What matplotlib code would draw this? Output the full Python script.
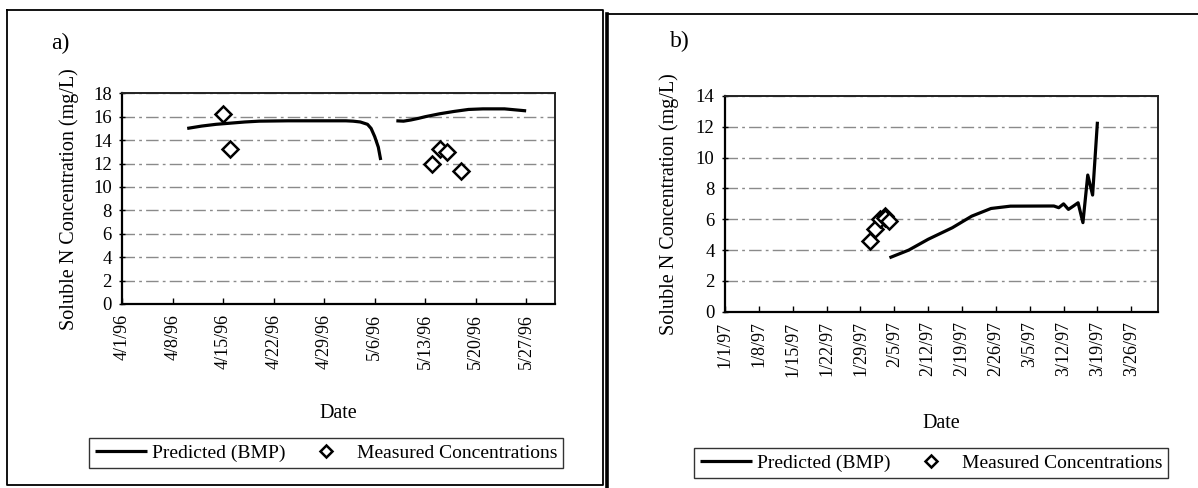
import matplotlib
matplotlib.use("Agg")
import matplotlib.pyplot as plt
from matplotlib.lines import Line2D
import pandas as pd
import numpy as np

plt.rcParams['font.family'] = ['Liberation Serif', 'DejaVu Serif']

# ---------------- data: panel a (1996) ----------------
a_pred_dates = ["1996-04-10", "1996-04-12", "1996-04-14", "1996-04-16", "1996-04-18",
                "1996-04-20", "1996-04-24", "1996-04-28", "1996-05-02", "1996-05-03",
                "1996-05-04", "1996-05-05", "1996-05-05 12:00", "1996-05-06",
                "1996-05-06 12:00", "1996-05-06 20:00",
                "1996-05-08",
                "1996-05-09", "1996-05-10", "1996-05-11", "1996-05-12", "1996-05-13",
                "1996-05-15", "1996-05-17", "1996-05-19", "1996-05-21", "1996-05-24",
                "1996-05-27"]
a_pred_vals = [15.0, 15.2, 15.35, 15.45, 15.55,
               15.62, 15.65, 15.65, 15.65, 15.62,
               15.55, 15.35, 15.0, 14.3,
               13.4, 12.3,
               np.nan,
               15.65, 15.62, 15.72, 15.85, 16.0,
               16.25, 16.45, 16.62, 16.67, 16.67,
               16.5]
a_meas_dates = ["1996-04-15", "1996-04-16", "1996-05-14", "1996-05-15", "1996-05-16", "1996-05-18"]
a_meas_vals = [16.2, 13.2, 12.0, 13.2, 12.95, 11.35]
a_tick_dates = ["1996-04-01", "1996-04-08", "1996-04-15", "1996-04-22", "1996-04-29",
                "1996-05-06", "1996-05-13", "1996-05-20", "1996-05-27"]
a_tick_labels = ["4/1/96", "4/8/96", "4/15/96", "4/22/96", "4/29/96",
                 "5/6/96", "5/13/96", "5/20/96", "5/27/96"]
a_xlim = ["1996-04-01", "1996-05-31"]
a_yticks = [0, 2, 4, 6, 8, 10, 12, 14, 16, 18]

# ---------------- data: panel b (1997) ----------------
b_pred_dates = ["1997-02-04", "1997-02-08", "1997-02-12", "1997-02-17", "1997-02-21",
                "1997-02-25", "1997-03-01", "1997-03-09", "1997-03-10", "1997-03-11",
                "1997-03-12", "1997-03-13", "1997-03-14", "1997-03-15", "1997-03-16",
                "1997-03-17", "1997-03-18", "1997-03-19"]
b_pred_vals = [3.5, 4.0, 4.7, 5.45, 6.2,
               6.7, 6.85, 6.86, 6.86, 6.75,
               7.0, 6.64, 6.85, 7.07, 5.78,
               8.87, 7.57, 12.33]
b_meas_dates = ["1997-01-31", "1997-02-01", "1997-02-02", "1997-02-03", "1997-02-03", "1997-02-04"]
b_meas_vals = [4.6, 5.4, 6.0, 6.2, 6.05, 5.9]
b_tick_dates = ["1997-01-01", "1997-01-08", "1997-01-15", "1997-01-22", "1997-01-29",
                "1997-02-05", "1997-02-12", "1997-02-19", "1997-02-26", "1997-03-05",
                "1997-03-12", "1997-03-19", "1997-03-26"]
b_tick_labels = ["1/1/97", "1/8/97", "1/15/97", "1/22/97", "1/29/97",
                 "2/5/97", "2/12/97", "2/19/97", "2/26/97", "3/5/97",
                 "3/12/97", "3/19/97", "3/26/97"]
b_xlim = ["1997-01-01", "1997-03-31 14:00"]
b_yticks = [0, 2, 4, 6, 8, 10, 12, 14]

series_labels = ["Predicted (BMP)", "Measured Concentrations"]
ylabel = "Soluble N Concentration (mg/L)"
xlabel = "Date"

W, H = 1198, 488
fig = plt.figure(figsize=(W / 100, H / 100), dpi=100)


def fx(px):
    return px / W


def fy(py):
    return 1 - py / H


def to_dt(v):
    return pd.to_datetime(v, format='mixed')


def make_panel(rect, pdates, pvals, mdates_, mvals, tdates, tlabels, xlim, yticks,
               panel_label, label_xy, ylab_x, leg_center, leg_pad):
    ax = fig.add_axes(rect)
    ax.plot(to_dt(pdates), pvals, color='black', lw=2.3, solid_capstyle='butt', zorder=3,
            label=series_labels[0])
    ax.plot(to_dt(mdates_), mvals, linestyle='none', marker='D', markersize=8.0,
            markerfacecolor='white', markeredgecolor='black', markeredgewidth=1.8,
            zorder=4, label=series_labels[1])
    ax.set_xlim(to_dt(xlim[0]), to_dt(xlim[1]))
    ax.set_ylim(yticks[0], yticks[-1])
    ax.set_yticks(yticks)
    ax.set_xticks(to_dt(tdates))
    ax.set_xticklabels(tlabels, rotation=90, fontsize=13)
    ax.tick_params(axis='y', labelsize=13.5, direction='inout', length=5, width=1, pad=5)
    ax.tick_params(axis='x', direction='in', length=4, width=1, pad=7)
    ax.grid(axis='y', color='#8a8a8a', lw=1.0, linestyle=(0, (9, 3, 2, 3)))
    ax.set_axisbelow(True)
    for s in ['left', 'bottom']:
        ax.spines[s].set_linewidth(1.6)
        ax.spines[s].set_color('black')
    for s in ['top', 'right']:
        ax.spines[s].set_linewidth(1.4)
        ax.spines[s].set_color('#222222')
    ax.set_ylabel(ylabel, fontsize=14.5, va='center')
    ax.yaxis.set_label_coords(ylab_x, 0.5)
    ax.set_xlabel(xlabel, fontsize=14.5, va='center')
    ax.xaxis.set_label_coords(0.5, -0.52)
    fig.text(fx(label_xy[0]), fy(label_xy[1]), panel_label, fontsize=17,
             ha='center', va='center')
    leg = ax.legend(loc='center', bbox_to_anchor=(fx(leg_center[0]), fy(leg_center[1])),
                    bbox_transform=fig.transFigure, ncol=2, fontsize=14,
                    frameon=True, fancybox=False, edgecolor='black', markerscale=0.75,
                    handlelength=2.7, handletextpad=0.25, columnspacing=0.7,
                    borderpad=leg_pad, borderaxespad=0)
    leg.get_frame().set_linewidth(1.0)
    return ax


# panel a
make_panel([fx(122.3), fy(304), fx(555) - fx(122.3), fy(93.3) - fy(304)],
           a_pred_dates, a_pred_vals, a_meas_dates, a_meas_vals,
           a_tick_dates, a_tick_labels, a_xlim, a_yticks,
           "a)", (60, 43), -0.123, (326, 453), 0.3)

# panel b
make_panel([fx(725), fy(311.7), fx(1158.3) - fx(725), fy(96) - fy(311.7)],
           b_pred_dates, b_pred_vals, b_meas_dates, b_meas_vals,
           b_tick_dates, b_tick_labels, b_xlim, b_yticks,
           "b)", (680, 41), -0.128, (931, 463), 0.3)

# panel frames
fig.add_artist(Line2D([fx(7), fx(7), fx(603), fx(603), fx(7)],
                      [fy(10), fy(485), fy(485), fy(10), fy(10)],
                      transform=fig.transFigure, color='black', lw=1.3))
fig.add_artist(Line2D([fx(607), fx(607)], [fy(14), fy(488)],
                      transform=fig.transFigure, color='black', lw=2.6))
fig.add_artist(Line2D([fx(607), fx(1198)], [fy(14), fy(14)],
                      transform=fig.transFigure, color='black', lw=1.3))

fig.savefig("out.png", dpi=100)
